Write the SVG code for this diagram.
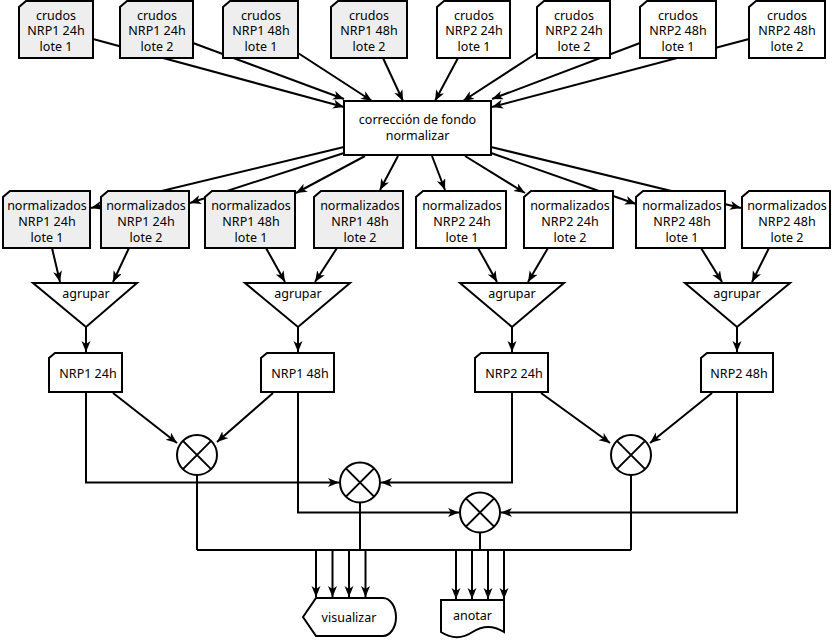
<svg xmlns="http://www.w3.org/2000/svg" width="832" height="640" viewBox="0 0 832 640">
<defs>
<marker id="ah" markerUnits="userSpaceOnUse" markerWidth="12" markerHeight="10" refX="11" refY="4.5" orient="auto">
<path d="M0,0 L11,4.5 L0,9 L3,4.5 Z" fill="#000"/>
</marker>
</defs>
<style>
.c{fill:none;stroke:#000;stroke-width:2;marker-end:url(#ah)}
.l{fill:none;stroke:#000;stroke-width:2}
.g{fill:#eeeeee;stroke:#000;stroke-width:2}
.w{fill:#fff;stroke:#000;stroke-width:2}
text{font-family:"Noto Sans","Open Sans",sans-serif;font-size:12.5px;fill:#000;text-anchor:middle}
</style>
<rect width="832" height="640" fill="#fff"/>
<g id="connectors">
<path class="c" d="M93,39 L344,107"/>
<path class="c" d="M193,43 L344,99"/>
<path class="c" d="M298,53 L372,101"/>
<path class="c" d="M383,58 L403,101"/>
<path class="c" d="M458,58 L435,101"/>
<path class="c" d="M537,53 L463,101"/>
<path class="c" d="M640,43 L492,99"/>
<path class="c" d="M749,39 L492,107"/>
<path class="c" d="M344,147 L91,208"/>
<path class="c" d="M344,153 L190,203"/>
<path class="c" d="M365,156 L296,193"/>
<path class="c" d="M398,156 L380,190"/>
<path class="c" d="M432,156 L445,190"/>
<path class="c" d="M465,156 L525,193"/>
<path class="c" d="M491,153 L636,204"/>
<path class="c" d="M491,147 L741,208"/>
<path class="c" d="M52,248 L60,282"/>
<path class="c" d="M129,248 L113,282"/>
<path class="c" d="M266,248 L285,282"/>
<path class="c" d="M337,248 L315,282"/>
<path class="c" d="M478,248 L497,282"/>
<path class="c" d="M548,248 L528,282"/>
<path class="c" d="M701,248 L722,282"/>
<path class="c" d="M769,248 L752,282"/>
<path class="c" d="M86,327 L86,352"/>
<path class="c" d="M298,327 L298,352"/>
<path class="c" d="M512,327 L512,352"/>
<path class="c" d="M737,327 L737,352"/>
<path class="c" d="M113,393 L177,443"/>
<path class="c" d="M273,393 L217,442"/>
<path class="c" d="M541,393 L610,443"/>
<path class="c" d="M712,393 L650,443"/>
<path class="c" d="M86,392 V482.5 H339"/>
<path class="c" d="M298,392 V512.5 H459"/>
<path class="c" d="M512,392 V482.5 H381"/>
<path class="c" d="M737,392 V512.5 H501"/>
<path class="l" d="M197,475 V550 M360,503 V550 M631,475 V550 M480,532.5 V550 M197,550 H631"/>
<path class="c" d="M316,550 V597"/>
<path class="c" d="M332.5,550 V597"/>
<path class="c" d="M349,550 V597"/>
<path class="c" d="M365.5,550 V597"/>
<path class="c" d="M456,550 V599"/>
<path class="c" d="M472,550 V599"/>
<path class="c" d="M488,550 V599"/>
<path class="c" d="M504,550 V599"/>
</g>
<g id="crudos-nrp1-24h-1"><path class="g" d="M26,1 H93 V58 H19 V7 Z"/><text x="56" y="19.5">crudos</text><text x="56" y="35">NRP1 24h</text><text x="56" y="50.5">lote 1</text></g>
<g id="crudos-nrp1-24h-2"><path class="g" d="M127,1 H193 V58 H120 V7 Z"/><text x="157" y="19.5">crudos</text><text x="157" y="35">NRP1 24h</text><text x="157" y="50.5">lote 2</text></g>
<g id="crudos-nrp1-48h-1"><path class="g" d="M230,1 H298 V58 H223 V7 Z"/><text x="261" y="19.5">crudos</text><text x="261" y="35">NRP1 48h</text><text x="261" y="50.5">lote 1</text></g>
<g id="crudos-nrp1-48h-2"><path class="g" d="M338,1 H407 V58 H331 V7 Z"/><text x="369" y="19.5">crudos</text><text x="369" y="35">NRP1 48h</text><text x="369" y="50.5">lote 2</text></g>
<g id="crudos-nrp2-24h-1"><path class="w" d="M444,1 H510 V58 H437 V7 Z"/><text x="474" y="19.5">crudos</text><text x="474" y="35">NRP2 24h</text><text x="474" y="50.5">lote 1</text></g>
<g id="crudos-nrp2-24h-2"><path class="w" d="M544,1 H610 V58 H537 V7 Z"/><text x="574" y="19.5">crudos</text><text x="574" y="35">NRP2 24h</text><text x="574" y="50.5">lote 2</text></g>
<g id="crudos-nrp2-48h-1"><path class="w" d="M647,1 H716 V58 H640 V7 Z"/><text x="678" y="19.5">crudos</text><text x="678" y="35">NRP2 48h</text><text x="678" y="50.5">lote 1</text></g>
<g id="crudos-nrp2-48h-2"><path class="w" d="M756,1 H825 V58 H749 V7 Z"/><text x="787" y="19.5">crudos</text><text x="787" y="35">NRP2 48h</text><text x="787" y="50.5">lote 2</text></g>
<g id="correccion"><rect class="w" x="344" y="101" width="147" height="54"/><text x="417.5" y="123.5">corrección de fondo</text><text x="417.5" y="140">normalizar</text></g>
<g id="norm-nrp1-24h-1"><path class="g" d="M10,191 H90 V248 H3 V197 Z"/><text x="47" y="209.5">normalizados</text><text x="47" y="226">NRP1 24h</text><text x="47" y="241.5">lote 1</text></g>
<g id="norm-nrp1-24h-2"><path class="g" d="M108,191 H189 V248 H101 V197 Z"/><text x="146" y="209.5">normalizados</text><text x="146" y="226">NRP1 24h</text><text x="146" y="241.5">lote 2</text></g>
<g id="norm-nrp1-48h-1"><path class="g" d="M212,191 H295 V248 H205 V197 Z"/><text x="251" y="209.5">normalizados</text><text x="251" y="226">NRP1 48h</text><text x="251" y="241.5">lote 1</text></g>
<g id="norm-nrp1-48h-2"><path class="g" d="M321,191 H403 V248 H314 V197 Z"/><text x="360" y="209.5">normalizados</text><text x="360" y="226">NRP1 48h</text><text x="360" y="241.5">lote 2</text></g>
<g id="norm-nrp2-24h-1"><path class="w" d="M423,191 H506 V248 H416 V197 Z"/><text x="462" y="209.5">normalizados</text><text x="462" y="226">NRP2 24h</text><text x="462" y="241.5">lote 1</text></g>
<g id="norm-nrp2-24h-2"><path class="w" d="M531,191 H613 V248 H524 V197 Z"/><text x="570" y="209.5">normalizados</text><text x="570" y="226">NRP2 24h</text><text x="570" y="241.5">lote 2</text></g>
<g id="norm-nrp2-48h-1"><path class="w" d="M643,191 H725 V248 H636 V197 Z"/><text x="682" y="209.5">normalizados</text><text x="682" y="226">NRP2 48h</text><text x="682" y="241.5">lote 1</text></g>
<g id="norm-nrp2-48h-2"><path class="w" d="M749,191 H830 V248 H742 V197 Z"/><text x="787" y="209.5">normalizados</text><text x="787" y="226">NRP2 48h</text><text x="787" y="241.5">lote 2</text></g>
<g id="agrupar-1"><path class="w" d="M33,283 H137 L86,327 Z"/><text x="86" y="297.5">agrupar</text></g>
<g id="agrupar-2"><path class="w" d="M245,283 H350 L298,327 Z"/><text x="298" y="297.5">agrupar</text></g>
<g id="agrupar-3"><path class="w" d="M460,283 H564 L512,327 Z"/><text x="512" y="297.5">agrupar</text></g>
<g id="agrupar-4"><path class="w" d="M685,283 H790 L737,327 Z"/><text x="737" y="297.5">agrupar</text></g>
<g id="nrp1-24h"><path class="w" d="M55,353 H122 V392 H49 V358 Z"/><text x="88" y="377.5">NRP1 24h</text></g>
<g id="nrp1-48h"><path class="w" d="M267,353 H334 V392 H261 V358 Z"/><text x="300" y="377.5">NRP1 48h</text></g>
<g id="nrp2-24h"><path class="w" d="M481,353 H548 V392 H475 V358 Z"/><text x="514" y="377.5">NRP2 24h</text></g>
<g id="nrp2-48h"><path class="w" d="M707,353 H773 V392 H701 V358 Z"/><text x="739" y="377.5">NRP2 48h</text></g>
<g id="op1"><circle class="w" cx="197" cy="455" r="20"/><path class="l" d="M182.9,440.9 L211.1,469.1 M211.1,440.9 L182.9,469.1"/></g>
<g id="op2"><circle class="w" cx="360" cy="482.5" r="20"/><path class="l" d="M345.9,468.4 L374.1,496.6 M374.1,468.4 L345.9,496.6"/></g>
<g id="op3"><circle class="w" cx="631" cy="455" r="20"/><path class="l" d="M616.9,440.9 L645.1,469.1 M645.1,440.9 L616.9,469.1"/></g>
<g id="op4"><circle class="w" cx="480" cy="512.5" r="20"/><path class="l" d="M465.9,498.4 L494.1,526.6 M494.1,498.4 L465.9,526.6"/></g>
<g id="visualizar"><path class="w" d="M303,617 L316,598 H383 A13,19 0 0 1 383,636 H316 Z"/><text x="349" y="621.5">visualizar</text></g>
<g id="anotar"><path class="w" d="M441,600 H504 V632 Q488,622 472.5,632 Q457,642.5 441,632 Z"/><text x="472.5" y="619.5">anotar</text></g>
</svg>
